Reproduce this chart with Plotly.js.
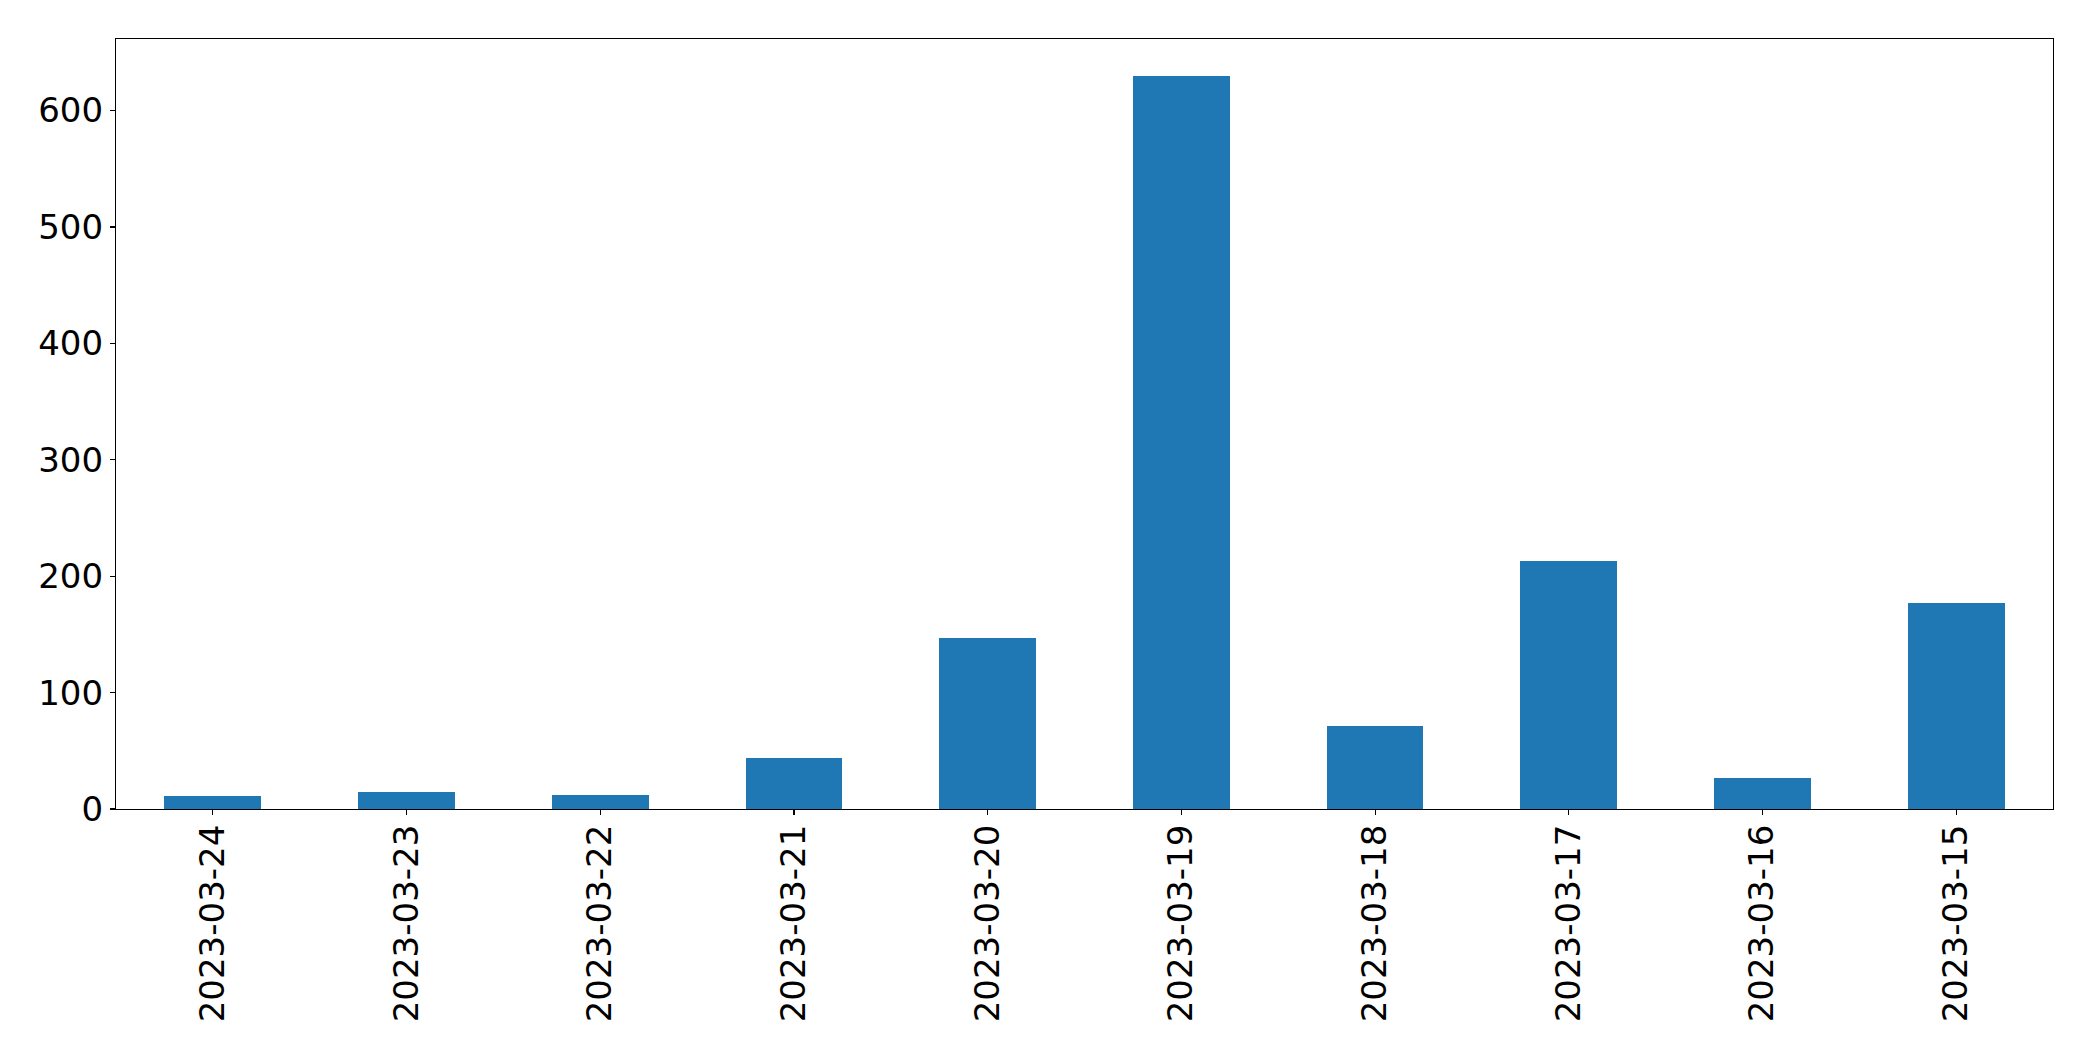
<!DOCTYPE html>
<html>
<head>
<meta charset="utf-8">
<script src="https://cdn.plot.ly/plotly-3.0.1.min.js"></script>
<style>html,body{margin:0;padding:0;background:#fff;}#chart{width:2093px;height:1061px;}</style>
</head>
<body>
<div id="chart"></div>
<script>
const dates = ["2023-03-24","2023-03-23","2023-03-22","2023-03-21","2023-03-20","2023-03-19","2023-03-18","2023-03-17","2023-03-16","2023-03-15"];
const counts = [11, 15, 12, 44, 147, 630, 71, 213, 27, 177];
const yTicks = [0, 100, 200, 300, 400, 500, 600];

const trace = {
  type: 'bar',
  x: dates,
  y: counts,
  width: 0.5,
  marker: {color: '#1f77b4', line: {width: 0}},
  hoverinfo: 'x+y'
};

const font = {family: 'DejaVu Sans, sans-serif', size: 34, color: '#000'};
const layout = {
  width: 2093, height: 1061,
  margin: {l: 116, r: 40, t: 39, b: 252, pad: 0},
  paper_bgcolor: '#fff', plot_bgcolor: '#fff',
  showlegend: false,
  font: font,
  bargap: 0,
  xaxis: {
    type: 'category',
    range: [-0.5, 9.5],
    showgrid: false, zeroline: false,
    showline: true, linecolor: '#000', linewidth: 1.1, mirror: true,
    ticks: 'outside', ticklen: 5, tickwidth: 1.1, tickcolor: '#000',
    tickangle: -90,
    tickfont: font,
    ticklabelstandoff: -4
  },
  yaxis: {
    range: [0, 661.5],
    tickvals: yTicks,
    ticktext: yTicks.map(String),
    showgrid: false, zeroline: false,
    showline: true, linecolor: '#000', linewidth: 1.1, mirror: true,
    ticks: 'outside', ticklen: 5, tickwidth: 1.1, tickcolor: '#000',
    tickfont: font,
    ticklabelstandoff: 0
  }
};

Plotly.newPlot('chart', [trace], layout, {displayModeBar: false, staticPlot: true});
</script>
</body>
</html>
